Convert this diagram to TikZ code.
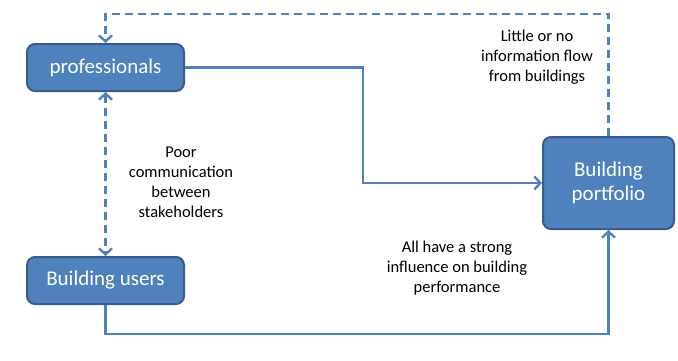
\documentclass[tikz,border=0pt]{standalone}
\usepackage{fontspec}
\setmainfont{Carlito}
\usetikzlibrary{arrows.meta}
\definecolor{boxfill}{HTML}{4F81BD}
\definecolor{boxedge}{HTML}{385D8A}
\definecolor{flow}{HTML}{4F81BD}
\begin{document}
\begin{tikzpicture}[x=1pt,y=-1pt,
  box/.style={draw=boxedge, line width=2pt, fill=boxfill, rounded corners=8pt,
    text=white, align=center, inner sep=0pt},
  tip/.style={Straight Barb[length=6pt,width=13pt,line width=2.4pt]},
  link/.style={draw=flow, line width=2.8pt, -{Straight Barb[length=6pt,width=13pt,line width=2.4pt]}},
  dashlink/.style={link, dash pattern=on 8pt off 5pt},
  note/.style={align=center, font=\fontsize{16.5}{20}\selectfont, text=black}]
\useasboundingbox (0,0) rectangle (678,360);

% stakeholders and the building stock
\node[box, minimum width=157pt, minimum height=47pt,
  font=\fontsize{21}{24}\selectfont] (prof) at (105.5,67.5) {professionals};
\node[box, minimum width=157pt, minimum height=47pt,
  font=\fontsize{21}{24}\selectfont] (users) at (105.5,280.5) {Building users};
\node[box, minimum width=131pt, minimum height=92pt,
  font=\fontsize{21}{24}\selectfont] (port) at (608.5,183) {Building\\portfolio};

% corner points of the routed connectors
\coordinate (topL) at (105.5,14);
\coordinate (topR) at (608.5,14);
\coordinate (midA) at (363,67.5);
\coordinate (midB) at (363,183);
\coordinate (botL) at (105.5,334);
\coordinate (botR) at (608.5,334);

% feedback from buildings (weak, dashed)
\draw[dashlink] (port.north) -- (topR) -- (topL) -- (prof.north);
% communication between stakeholders
\draw[dashlink, {Straight Barb[length=6pt,width=13pt,line width=2.4pt]}-{Straight Barb[length=6pt,width=13pt,line width=2.4pt]}]
  (prof.south) -- (users.north);
% influence on the buildings
\draw[link] (prof.east) -- (midA) -- (midB) -- (port.west);
\draw[link] (users.south) -- (botL) -- (botR) -- (port.south);

% annotations
\node[note] (lbl1) at (181,182) {Poor\\communication\\between\\stakeholders};
\node[note] (lbl2) at (537,57) {Little or no\\information flow\\from buildings};
\node[note] (lbl3) at (457,268) {All have a strong\\influence on building\\performance};
\end{tikzpicture}
\end{document}
